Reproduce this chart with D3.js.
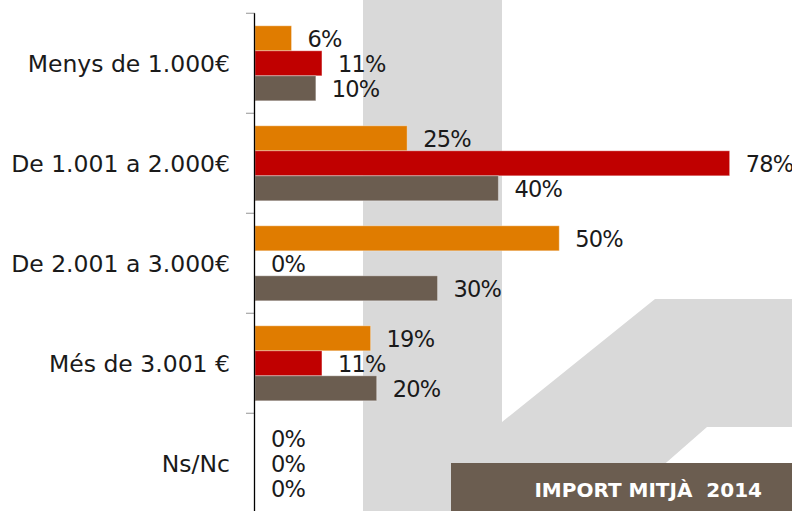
<!DOCTYPE html>
<html>
<head>
<meta charset="utf-8">
<script src="https://cdn.jsdelivr.net/npm/d3@7"></script>
<style>
  html, body { margin: 0; padding: 0; background: #fff; }
  svg { display: block; }
</style>
</head>
<body>
<svg id="chart" width="792" height="511"></svg>
<script>
// ---- data ----
const categories = ["Menys de 1.000€", "De 1.001 a 2.000€", "De 2.001 a 3.000€", "Més de 3.001 €", "Ns/Nc"];
const seriesNames = ["s1", "s2", "s3"];
const series1 = [6, 25, 50, 19, 0];   // orange
const series2 = [11, 78, 0, 11, 0];   // red
const series3 = [10, 40, 30, 20, 0];  // brown
const seriesColors = ["#E07C00", "#C00000", "#6B5D50"];
const xDomain = [0, 100];
const title = "IMPORT MITJÀ  2014";

// ---- layout ----
const W = 792, H = 511;
const svg = d3.select("#chart");
const font = "'DejaVu Sans', sans-serif";

// decorative background shape
svg.append("path")
  .attr("d", "M363,0 L502,0 L502,422 L655,299 L792,299 L792,427 L707,427 L611,511 L363,511 Z")
  .attr("fill", "#D9D9D9");

const x = d3.scaleLinear().domain(xDomain).range([255, 863.5]);
const y0 = d3.scaleBand().domain(categories).range([13.3, 513.3]).padding(0);
const y1 = d3.scaleBand().domain(seriesNames).range([12.5, 87.5]).padding(0);

const allSeries = [series1, series2, series3];
const rows = categories.map((c, i) => ({
  cat: c,
  vals: seriesNames.map((s, j) => ({ s, v: allSeries[j][i], color: seriesColors[j] }))
}));

const g = svg.append("g").selectAll("g").data(rows).join("g")
  .attr("transform", d => `translate(0,${y0(d.cat)})`);

g.selectAll("rect").data(d => d.vals).join("rect")
  .attr("x", x(0))
  .attr("y", d => y1(d.s))
  .attr("width", d => x(d.v) - x(0))
  .attr("height", y1.bandwidth())
  .attr("fill", d => d.color)
  .attr("stroke", d => d.v > 0 ? "rgba(255,255,255,0.35)" : "none")
  .attr("stroke-width", 1);

g.selectAll("text").data(d => d.vals).join("text")
  .attr("x", d => x(d.v) + 16)
  .attr("y", d => y1(d.s) + y1.bandwidth() / 2)
  .attr("dy", "0.37em")
  .attr("font-family", font)
  .attr("font-size", 22.5)
  .attr("letter-spacing", -0.8)
  .attr("fill", "#1a1a1a")
  .text(d => d.v + "%");

// axis ticks (at category boundaries)
const tickYs = categories.map(c => y0(c));
svg.append("g").selectAll("line").data(tickYs).join("line")
  .attr("x1", 246).attr("x2", 255)
  .attr("y1", d => d).attr("y2", d => d)
  .attr("stroke", "#A6A6A6").attr("stroke-width", 1.2);

// axis line
svg.append("line")
  .attr("x1", x(0) - 0.5).attr("x2", x(0) - 0.5)
  .attr("y1", y0.range()[0]).attr("y2", H)
  .attr("stroke", "#000").attr("stroke-width", 1.3);

// category labels
svg.append("g").selectAll("text").data(categories).join("text")
  .attr("x", 230)
  .attr("y", d => y0(d) + y0.bandwidth() / 2)
  .attr("dy", "0.38em")
  .attr("text-anchor", "end")
  .attr("font-family", font)
  .attr("font-size", 23.5)
  .attr("fill", "#1a1a1a")
  .text(d => d);

// title box
svg.append("rect")
  .attr("x", 451).attr("y", 463)
  .attr("width", W - 451).attr("height", H - 463)
  .attr("fill", "#6B5D50");
svg.append("text")
  .attr("x", 762).attr("y", 497)
  .attr("text-anchor", "end")
  .attr("font-family", font)
  .attr("font-weight", "bold")
  .attr("font-size", 20)
  .attr("fill", "#fff")
  .style("white-space", "pre")
  .text(title);
</script>
</body>
</html>
